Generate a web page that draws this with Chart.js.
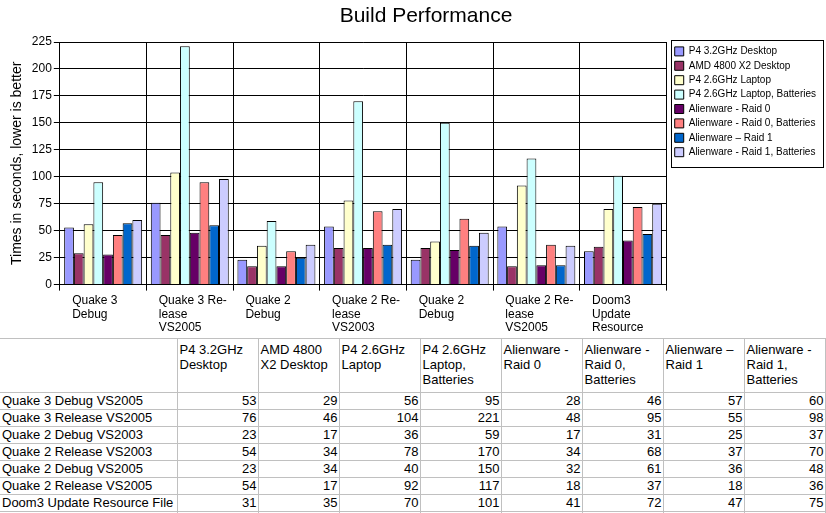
<!DOCTYPE html>
<html>
<head>
<meta charset="utf-8">
<script src="https://cdn.jsdelivr.net/npm/chart.js@4.4.0/dist/chart.umd.min.js"></script>
<style>
  body { margin: 0; width: 826px; height: 513px; overflow: hidden; background: #fff;
         font-family: "Liberation Sans", Arial, sans-serif; color: #000; }
  #wrap { position: relative; width: 826px; height: 338px; }
  #title { position: absolute; left: 0; top: 3px; width: 852px; text-align: center; font-size: 21px; }
  table { border-collapse: collapse; table-layout: fixed; font-size: 13px; width: 825px; }
  td { border: 1px solid #c0c0c0; padding: 0; overflow: hidden; white-space: nowrap; }
  tr.head td { height: 50px; vertical-align: top; line-height: 15px; padding: 3px 0 0 2px; }
  tr.row td { height: 16px; line-height: 16px; text-align: right; padding-right: 1px; }
  tr.row td.name { text-align: left; padding-left: 2px; }
  td.first { border-left: none; }
</style>
</head>
<body>
<div id="wrap">
  <div id="title">Build Performance</div>
  <canvas id="chart" width="826" height="338"></canvas>
</div>
<table id="data"></table>
<script>
// Categories as they appear under the bars (wrapped the same way)
const categories = [
    ['Quake 3', 'Debug'],
    ['Quake 3 Re-', 'lease', 'VS2005'],
    ['Quake 2', 'Debug'],
    ['Quake 2 Re-', 'lease', 'VS2003'],
    ['Quake 2', 'Debug'],
    ['Quake 2 Re-', 'lease', 'VS2005'],
    ['Doom3', 'Update', 'Resource']
];
// Row names in the data table
const rowNames = [
    'Quake 3 Debug VS2005',
    'Quake 3 Release VS2005',
    'Quake 2 Debug VS2003',
    'Quake 2 Release VS2003',
    'Quake 2 Debug VS2005',
    'Quake 2 Release VS2005',
    'Doom3 Update Resource File'
];
const seriesNames = [
    'P4 3.2GHz Desktop',
    'AMD 4800 X2 Desktop',
    'P4 2.6GHz Laptop',
    'P4 2.6GHz Laptop, Batteries',
    'Alienware - Raid 0',
    'Alienware - Raid 0, Batteries',
    'Alienware \u2013 Raid 1',
    'Alienware - Raid 1, Batteries'
];
// Table header text, split where the table wraps it
const tableHeaders = [
    ['P4 3.2GHz', 'Desktop'],
    ['AMD 4800', 'X2 Desktop'],
    ['P4 2.6GHz', 'Laptop'],
    ['P4 2.6GHz', 'Laptop,', 'Batteries'],
    ['Alienware -', 'Raid 0'],
    ['Alienware -', 'Raid 0,', 'Batteries'],
    ['Alienware \u2013', 'Raid 1'],
    ['Alienware -', 'Raid 1,', 'Batteries']
];

// Seconds per build
const p4Desktop      = [53, 76, 23, 54, 23, 54, 31];
const amdDesktop     = [29, 46, 17, 34, 34, 17, 35];
const p4Laptop       = [56, 104, 36, 78, 40, 92, 70];
const p4LaptopBatt   = [95, 221, 59, 170, 150, 117, 101];
const raid0          = [28, 48, 17, 34, 32, 18, 41];
const raid0Batt      = [46, 95, 31, 68, 61, 37, 72];
const raid1          = [57, 55, 25, 37, 36, 18, 47];
const raid1Batt      = [60, 98, 37, 70, 48, 36, 75];

const yMin = 0;
const yMax = 225;
const yStep = 25;

const seriesValues = [p4Desktop, amdDesktop, p4Laptop, p4LaptopBatt, raid0, raid0Batt, raid1, raid1Batt];
const seriesColors = ['#9999ff', '#993366', '#ffffcc', '#ccffff', '#660066', '#ff8080', '#0066cc', '#ccccff'];

const FONT = '"Liberation Sans", Arial, sans-serif';

// Frame around the legend, and nudge it a bit off the plot edge
const legendFrame = {
    id: 'legendFrame',
    afterLayout(chart) {
        chart.legend.left += 4;
    },
    afterDraw(chart) {
        const boxes = chart.legend.legendHitBoxes;
        if (!boxes || !boxes.length) return;
        const first = boxes[0];
        const last = boxes[boxes.length - 1];
        const x0 = Math.round(first.left - 4) + 0.5;
        const y0 = Math.round(first.top - 6) + 0.5;
        const x1 = Math.round(first.left + 148) + 0.5;
        const y1 = Math.round(last.top + last.height + 10) + 0.5;
        const ctx = chart.ctx;
        ctx.save();
        ctx.strokeStyle = '#000';
        ctx.lineWidth = 1;
        ctx.strokeRect(x0, y0, x1 - x0, y1 - y0);
        ctx.restore();
    }
};

const ctx = document.getElementById('chart').getContext('2d');
new Chart(ctx, {
    type: 'bar',
    data: {
        labels: categories,
        datasets: seriesNames.map((name, i) => ({
            label: name,
            data: seriesValues[i],
            backgroundColor: seriesColors[i],
            borderColor: '#000',
            borderWidth: 1,
            categoryPercentage: 0.9,
            barPercentage: 1.0
        }))
    },
    options: {
        responsive: false,
        animation: false,
        layout: { padding: { left: 5, top: 42, right: 4, bottom: 0 } },
        plugins: {
            title: { display: false },
            tooltip: { enabled: false },
            legend: {
                position: 'right',
                align: 'start',
                labels: {
                    boxWidth: 9,
                    boxHeight: 9,
                    padding: 4.4,
                    color: '#000',
                    font: { family: FONT, size: 10 }
                }
            }
        },
        scales: {
            x: {
                grid: { offset: true, color: '#000', tickLength: 6, lineWidth: 1 },
                border: { color: '#000' },
                ticks: {
                    color: '#000',
                    align: 'start',
                    labelOffset: -31,
                    padding: 3,
                    maxRotation: 0,
                    autoSkip: false,
                    font: { family: FONT, size: 12, lineHeight: 1.15 }
                }
            },
            y: {
                min: yMin,
                max: yMax,
                grid: { color: '#000', tickLength: 6 },
                border: { color: '#000' },
                ticks: {
                    stepSize: yStep,
                    color: '#000',
                    padding: 2,
                    font: { family: FONT, size: 12 }
                },
                title: {
                    display: true,
                    text: 'Times in seconds, lower is better',
                    color: '#000',
                    padding: { top: 4, bottom: 4 },
                    font: { family: FONT, size: 14 }
                }
            }
        }
    },
    plugins: [legendFrame]
});

// Data table under the chart
const table = document.getElementById('data');
let html = '<colgroup><col style="width:177px">' + seriesNames.map(() => '<col style="width:81px">').join('') + '</colgroup>';
html += '<tr class="head"><td class="first"></td>' + tableHeaders.map(h => '<td>' + h.join('<br>') + '</td>').join('') + '</tr>';
rowNames.forEach((name, r) => {
    html += '<tr class="row"><td class="name first">' + name + '</td>' +
        seriesValues.map(s => '<td>' + s[r] + '</td>').join('') + '</tr>';
});
html += '<tr class="row"><td class="first"></td>' + seriesNames.map(() => '<td></td>').join('') + '</tr>';
table.innerHTML = html;
</script>
</body>
</html>
